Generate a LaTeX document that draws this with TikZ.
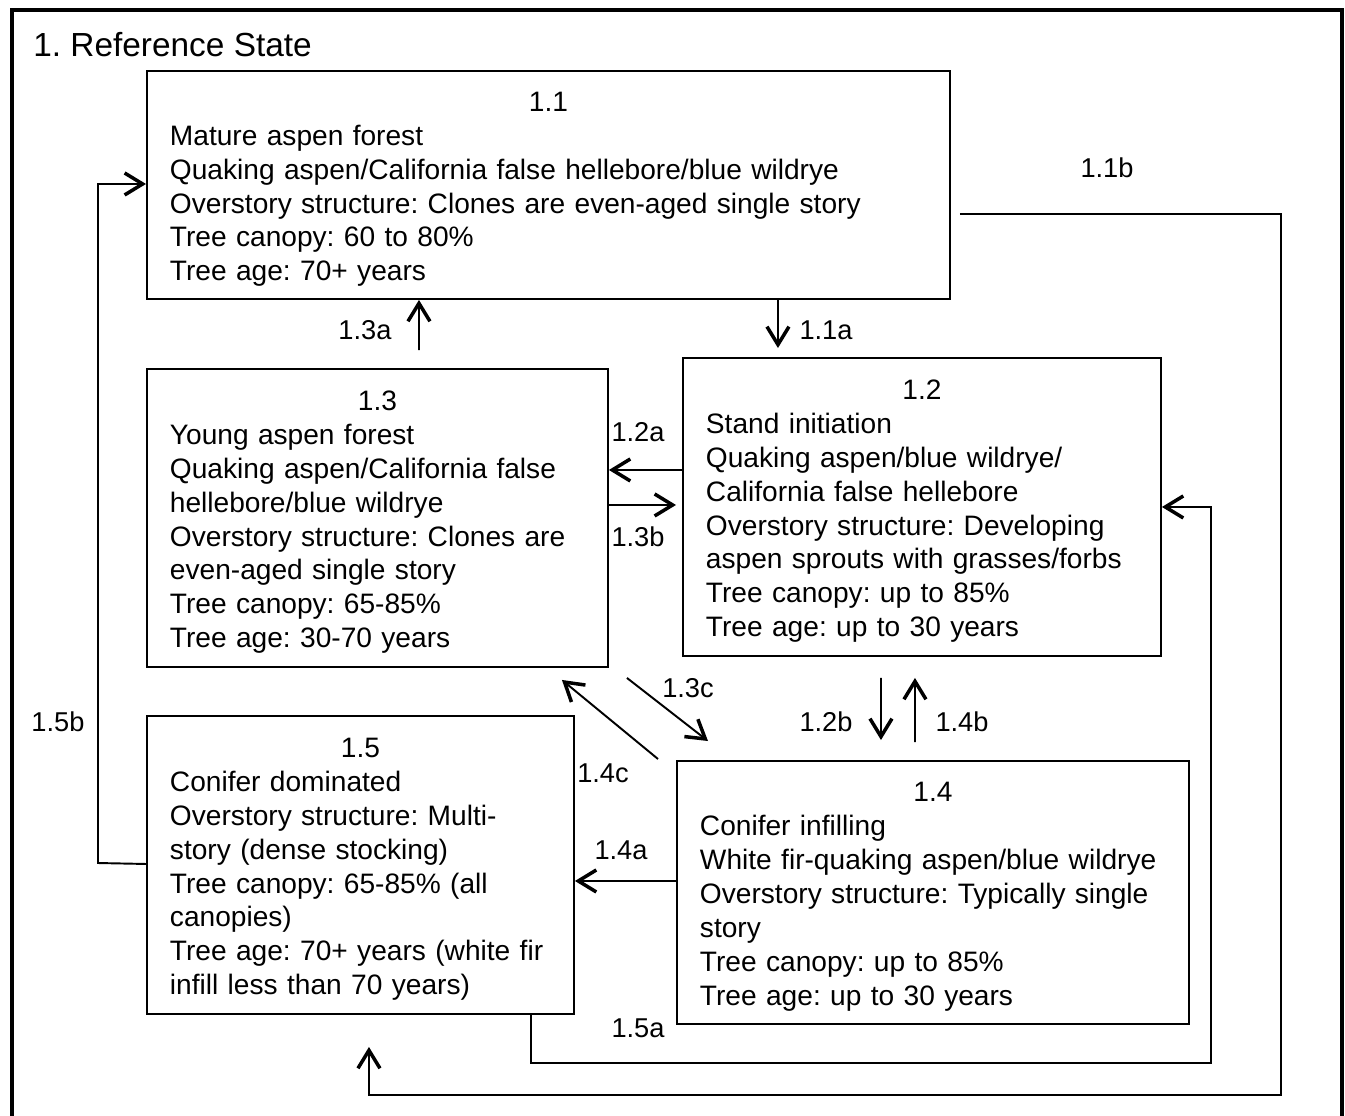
\documentclass[tikz,border=0pt]{standalone}
\usepackage{fontspec}
\setmainfont{Liberation Sans}
\usetikzlibrary{positioning, arrows.meta}

\newcommand{\statenum}[1]{\makebox[\hsize]{\rule{0pt}{16pt}#1}}

\tikzset{
  state box/.style={rectangle, draw, line width=1.1pt, anchor=north west,
    inner xsep=0.46cm, inner ysep=0pt, align=left,
    font=\fontsize{16}{19.3}\selectfont\frenchspacing},
  arr/.style={line width=1.1pt,
    -{Straight Barb[length=3.6mm, width=4.4mm, line width=2pt]}},
  lbl/.style={inner sep=0pt, font=\fontsize{15.5}{18}\selectfont}
}

\begin{document}
\begin{tikzpicture}
\useasboundingbox (0,0) rectangle (26.9,-22.3);
\draw[line width=2.2pt] (0.24,-22.6) -- (0.24,-0.2) -- (26.84,-0.2) -- (26.84,-22.6);

\node[anchor=west, inner sep=0pt, font=\fontsize{19}{23}\selectfont\frenchspacing] (title) at (0.66,-0.90) {1. Reference State};

% states
\node[state box, text width=15.14cm, minimum height=4.56cm] (b11) at (2.92,-1.40)
  {\statenum{1.1}\\ Mature aspen forest\\
   Quaking aspen/California false hellebore/blue wildrye\\
   Overstory structure: Clones are even-aged single story\\
   Tree canopy: 60 to 80\%\\ Tree age: 70+ years};
\node[state box, text width=8.30cm, minimum height=5.96cm] (b13) at (2.92,-7.36)
  {\statenum{1.3}\\ Young aspen forest\\
   Quaking aspen/California false\\ hellebore/blue wildrye\\
   Overstory structure: Clones are\\ even-aged single story\\
   Tree canopy: 65-85\%\\ Tree age: 30-70 years};
\node[state box, text width=8.64cm, minimum height=5.96cm] (b12) at (13.64,-7.14)
  {\statenum{1.2}\\ Stand initiation\\
   Quaking aspen/blue wildrye/\\ California false hellebore\\
   Overstory structure: Developing\\ aspen sprouts with grasses/forbs\\
   Tree canopy: up to 85\%\\ Tree age: up to 30 years};
\node[state box, text width=7.62cm, minimum height=5.96cm] (b15) at (2.92,-14.30)
  {\statenum{1.5}\\ Conifer dominated\\
   Overstory structure: Multi-\\ story (dense stocking)\\
   Tree canopy: 65-85\% (all\\ canopies)\\
   Tree age: 70+ years (white fir\\ infill less than 70 years)};
\node[state box, text width=9.32cm, minimum height=5.26cm] (b14) at (13.52,-15.20)
  {\statenum{1.4}\\ Conifer infilling\\
   White fir-quaking aspen/blue wildrye\\
   Overstory structure: Typically single\\ story\\
   Tree canopy: up to 85\%\\ Tree age: up to 30 years};

% transitions
\coordinate (c15a) at (24.22,-21.26);
\coordinate (c11b) at (25.62,-21.90);
\coordinate (c15b) at (1.96,-17.26);

\draw[arr, shorten >=1.8mm] ([xshift=4.59cm]b11.south) -- ([xshift=-2.88cm]b12.north);
\draw[arr, shorten <=3.6mm] ([xshift=0.83cm]b13.north) -- ([xshift=-2.59cm]b11.south);
\draw[arr] ([yshift=0.74cm]b12.west) -- ([yshift=0.96cm]b13.east);
\draw[arr, shorten >=1.2mm] ([yshift=0.26cm]b13.east) -- ([yshift=0.04cm]b12.west);
\draw[arr, shorten <=4.2mm, shorten >=4.0mm] ([xshift=-0.82cm]b12.south) -- ([xshift=-1.04cm]b14.north);
\draw[arr, shorten <=3.6mm, shorten >=4.2mm] ([xshift=-0.36cm]b14.north) -- ([xshift=-0.14cm]b12.south);
\draw[arr] ([xshift=0.36cm,yshift=-0.20cm]b13.south east) -- ([xshift=0.64cm,yshift=0.38cm]b14.north west);
\draw[arr] ([xshift=-0.36cm,yshift=0.02cm]b14.north west) -- ([xshift=-0.94cm,yshift=-0.24cm]b13.south east);
\draw[arr] ([yshift=0.23cm]b14.west) -- ([yshift=-0.32cm]b15.east);
\draw[arr] ([xshift=3.41cm]b15.south) |- (c15a) |- (b12.east);
\draw[arr] ([xshift=0.18cm,yshift=-0.58cm]b11.east) -| (c11b) -| ([xshift=0.17cm,yshift=-0.64cm]b15.south);
\draw[arr] ([yshift=0.02cm]b15.west) -- (c15b) |- ([yshift=0.02cm]b11.west);

% labels
\node[lbl] (l11a) at (16.52,-6.60) {1.1a};
\node[lbl] (l13a) at (7.30,-6.60) {1.3a};
\node[lbl] (l12a) at (12.76,-8.64) {1.2a};
\node[lbl] (l13b) at (12.76,-10.74) {1.3b};
\node[lbl] (l12b) at (16.52,-14.44) {1.2b};
\node[lbl] (l14b) at (19.24,-14.44) {1.4b};
\node[lbl] (l13c) at (13.76,-13.76) {1.3c};
\node[lbl] (l14c) at (12.06,-15.46) {1.4c};
\node[lbl] (l14a) at (12.42,-17.00) {1.4a};
\node[lbl] (l15a) at (12.76,-20.56) {1.5a};
\node[lbl] (l11b) at (22.14,-3.36) {1.1b};
\node[lbl] (l15b) at (1.16,-14.44) {1.5b};
\end{tikzpicture}
\end{document}
